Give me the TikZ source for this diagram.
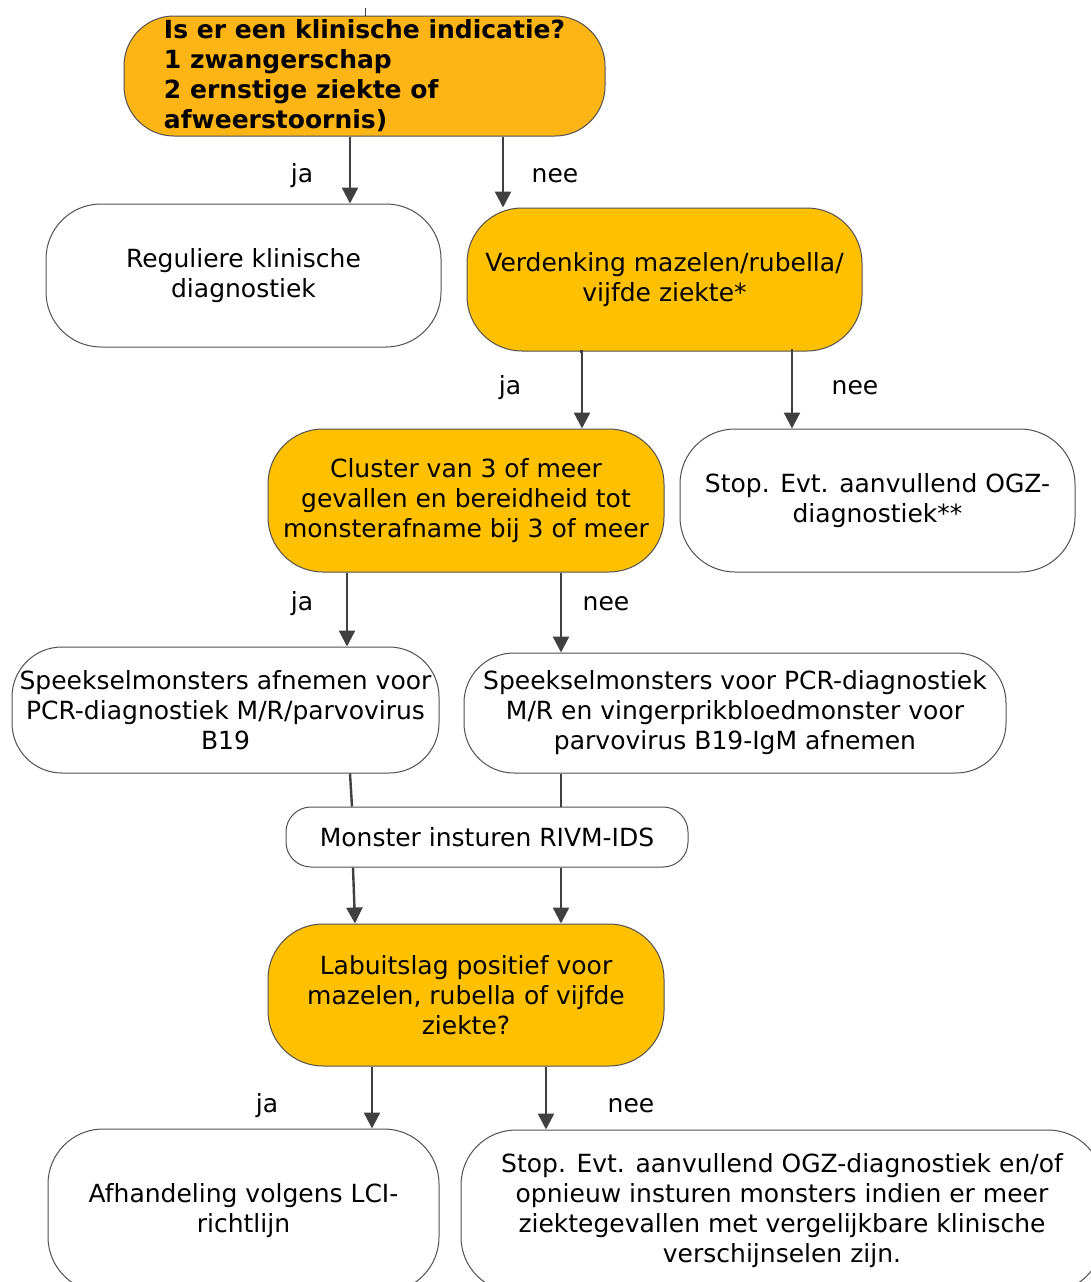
\documentclass[tikz,border=0pt]{standalone}
\usepackage{fontspec}
\setmainfont{DejaVu Sans}
\usetikzlibrary{arrows.meta}
\definecolor{orA}{HTML}{FFC000}
\definecolor{orT}{HTML}{FDB515}
\definecolor{lineC}{HTML}{404040}
\definecolor{bordC}{HTML}{505050}
\begin{document}
\begin{tikzpicture}[x=1pt,y=-1pt,
  bx/.style={draw=bordC, line width=1pt, inner sep=0pt, align=center,
    font=\fontsize{25}{30}\selectfont},
  lbl/.style={inner sep=0pt, font=\fontsize{25}{30}\selectfont},
  arr/.style={draw=lineC, line width=2.4pt, -{Triangle[width=16pt,length=16pt]}},
  ln/.style={draw=lineC, line width=2.4pt}]
\useasboundingbox (0,0) rectangle (1090,1282);
\fill[white] (0,0) rectangle (1090,1282);

% nodes
\node[bx, fill=orT, minimum width=481pt, minimum height=120pt, rounded corners=50pt,
  align=left, font=\fontsize{25}{30}\selectfont\bfseries] (top) at (364.5,76)
  {Is er een klinische indicatie?\\1 zwangerschap\\2 ernstige ziekte of\\afweerstoornis)};
\node[bx, fill=white, minimum width=395pt, minimum height=143pt, rounded corners=55pt] (reg) at (243.5,275.5)
  {Reguliere klinische\\diagnostiek};
\node[bx, fill=orA, minimum width=395pt, minimum height=143pt, rounded corners=55pt] (verd) at (664.5,279.5)
  {Verdenking mazelen/rubella/\\vijfde ziekte*};
\node[bx, fill=orA, minimum width=396pt, minimum height=143pt, rounded corners=55pt] (clus) at (466,500.5)
  {Cluster van 3 of meer\\gevallen en bereidheid tot\\monsterafname bij 3 of meer};
\node[bx, fill=white, minimum width=395pt, minimum height=143pt, rounded corners=55pt] (stop1) at (877.5,500.5)
  {Stop. Evt. aanvullend OGZ-\\diagnostiek**};
\node[bx, fill=white, minimum width=427pt, minimum height=126pt, rounded corners=50pt] (sp1) at (225.5,710)
  {Speekselmonsters afnemen voor\\PCR-diagnostiek M/R/parvovirus\\B19};
\node[bx, fill=white, minimum width=542pt, minimum height=120pt, rounded corners=50pt] (sp2) at (735,713)
  {Speekselmonsters voor PCR-diagnostiek\\M/R en vingerprikbloedmonster voor\\parvovirus B19-IgM afnemen};
\node[bx, fill=white, minimum width=402pt, minimum height=60pt, rounded corners=25pt] (mon) at (487,837)
  {Monster insturen RIVM-IDS};
\node[bx, fill=orA, minimum width=396pt, minimum height=142pt, rounded corners=55pt] (lab) at (466,995)
  {Labuitslag positief voor\\mazelen, rubella of vijfde\\ziekte?};
\node[bx, fill=white, minimum width=391pt, minimum height=163pt, rounded corners=55pt] (afh) at (243.5,1210.5)
  {Afhandeling volgens LCI-\\richtlijn};
\node[bx, fill=white, minimum width=642pt, minimum height=162pt, rounded corners=55pt] (stop2) at (782,1211)
  {Stop. Evt. aanvullend OGZ-diagnostiek en/of\\opnieuw insturen monsters indien er meer\\ziektegevallen met vergelijkbare klinische\\verschijnselen zijn.};

% column coordinates
\coordinate (x347) at (347,0);
\coordinate (x350) at (350,0);
\coordinate (x352) at (352,0);
\coordinate (x353) at (353,0);
\coordinate (x355) at (355,0);
\coordinate (x365) at (365,0);
\coordinate (x372) at (372,0);
\coordinate (x503) at (503,0);
\coordinate (x546) at (546,0);
\coordinate (x561) at (561,0);
\coordinate (x580) at (580,0);
\coordinate (x582) at (582,0);
\coordinate (x792) at (792,0);
\coordinate (stub) at (365,8);

% connectors
\draw[draw=lineC, line width=0.8pt] (stub) -- (top.north -| x365);
\draw[arr] (top.south -| x350) -- (reg.north -| x350);
\draw[arr] (top.south -| x503) -- (verd.north -| x503);
\draw[arr] (verd.south -| x580) -- ++(2,0) -- (clus.north -| x582);
\draw[arr] ([yshift=3pt]verd.south -| x792) -- (stop1.north -| x792);
\draw[arr] (clus.south -| x347) -- (sp1.north -| x347);
\draw[arr] (clus.south -| x561) -- (sp2.north -| x561);
\draw[ln] (sp1.south -| x350) -- (mon.north -| x352);
\draw[ln] (sp2.south -| x561) -- (mon.north -| x561);
\draw[arr] (mon.south -| x353) -- (lab.north -| x355);
\draw[arr] (mon.south -| x561) -- (lab.north -| x561);
\draw[arr] (lab.south -| x372) -- (afh.north -| x372);
\draw[arr] (lab.south -| x546) -- (stop2.north -| x546);

% labels
\node[lbl] (l1) at (302,176) {ja};
\node[lbl] (l2) at (555,176) {nee};
\node[lbl] (l3) at (510,388) {ja};
\node[lbl] (l4) at (855,388) {nee};
\node[lbl] (l5) at (302,604) {ja};
\node[lbl] (l6) at (606,604) {nee};
\node[lbl] (l7) at (267,1106) {ja};
\node[lbl] (l8) at (631,1106) {nee};
\end{tikzpicture}
\end{document}
